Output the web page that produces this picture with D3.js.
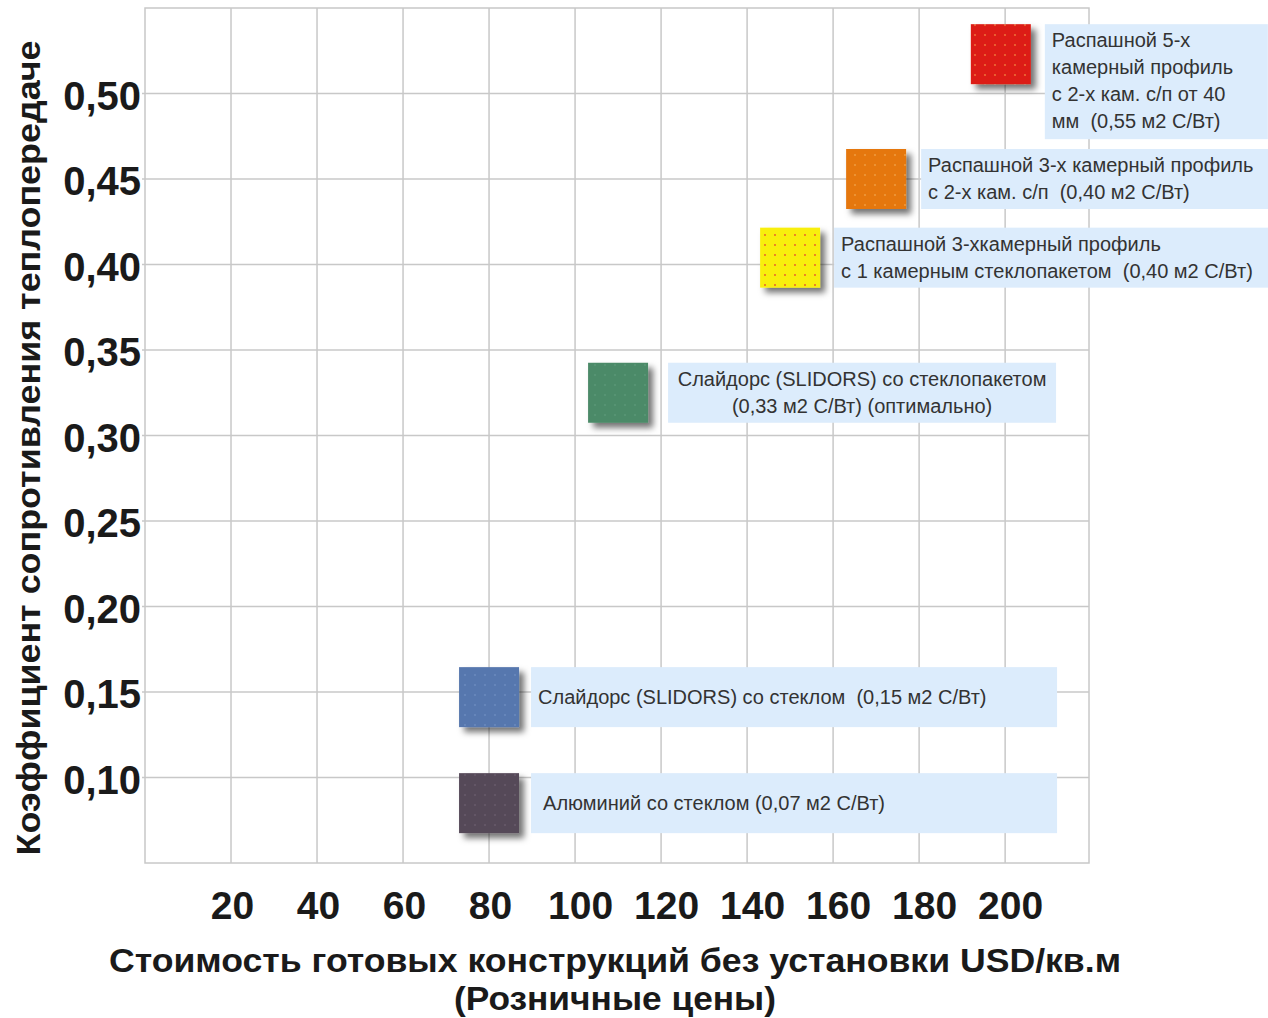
<!DOCTYPE html>
<html>
<head>
<meta charset="UTF-8" />
<script src="https://cdn.jsdelivr.net/npm/d3@7"></script>
<style>
    body { margin: 0; background: #fff; }
    svg text { white-space: pre; }
</style>
</head>
<body>
<div id="chart"></div>
<script>
// data
const categories = [
    ["Распашной 5-х", "камерный профиль", "с 2-х кам. с/п от 40", "мм  (0,55 м2 С/Вт)"],
    ["Распашной 3-х камерный профиль", "с 2-х кам. с/п  (0,40 м2 С/Вт)"],
    ["Распашной 3-хкамерный профиль", "с 1 камерным стеклопакетом  (0,40 м2 С/Вт)"],
    ["Слайдорс (SLIDORS) со стеклопакетом", "(0,33 м2 С/Вт) (оптимально)"],
    ["Слайдорс (SLIDORS) со стеклом  (0,15 м2 С/Вт)"],
    ["Алюминий со стеклом (0,07 м2 С/Вт)"]
];
const prices = [199, 170, 150, 110, 80, 80];
const coefs = [0.523, 0.45, 0.404, 0.325, 0.147, 0.085];
const xTicks = [20, 40, 60, 80, 100, 120, 140, 160, 180, 200];
const yTicks = [0.10, 0.15, 0.20, 0.25, 0.30, 0.35, 0.40, 0.45, 0.50];
const xTitle = ["Стоимость готовых конструкций без установки USD/кв.м", "(Розничные цены)"];
const yTitle = "Коэффициент сопротивления теплопередаче";

// styles / layout for each marker
const colors = ["#dc1f17", "#e5770f", "#f8ef10", "#4b8a68", "#5777ae", "#554858"];
const dotColors = ["#f07a3a", "#f0a040", "#e85030", "#5c9878", "#6c8cc0", "#6a5c6c"];
const gaps = [14, 15, 14, 20, 12, 12];
const boxW = [223, 348, 435, 388, 526, 526];
const boxH = [115, 60, 60, 60, 60, 60];
const centered = [false, false, false, true, false, false];

const W = 1268, H = 1018;
const side = 60;

const x = d3.scaleLinear().domain([0, 219.5]).range([145, 1089]);
const y = d3.scaleLinear().domain([0.05, 0.55]).range([863, 8]);

const svg = d3.select("#chart").append("svg")
    .attr("width", W).attr("height", H)
    .style("font-family", "'Liberation Sans', Arial, sans-serif");

const defs = svg.append("defs");
const f = defs.append("filter").attr("id", "shadow")
    .attr("x", "-20%").attr("y", "-20%").attr("width", "150%").attr("height", "150%");
f.append("feDropShadow").attr("dx", 5).attr("dy", 5).attr("stdDeviation", 3)
    .attr("flood-color", "#000").attr("flood-opacity", 0.55);

colors.forEach((c, i) => {
    const p = defs.append("pattern").attr("id", "dots" + i)
        .attr("patternUnits", "userSpaceOnUse").attr("width", 10).attr("height", 10);
    p.append("rect").attr("width", 10).attr("height", 10).attr("fill", c);
    p.append("circle").attr("cx", 5).attr("cy", 5).attr("r", 0.9).attr("fill", dotColors[i]);
});

// grid
const grid = svg.append("g").attr("stroke", "#c8c8c8").attr("stroke-width", 1.5);
grid.selectAll(".vx").data(xTicks).enter().append("line")
    .attr("x1", d => x(d)).attr("x2", d => x(d))
    .attr("y1", y(0.55)).attr("y2", y(0.05));
grid.selectAll(".hy").data(yTicks).enter().append("line")
    .attr("x1", x(0) - 3).attr("x2", x(219.5))
    .attr("y1", d => y(d)).attr("y2", d => y(d));
grid.append("rect")
    .attr("x", x(0)).attr("y", y(0.55))
    .attr("width", x(219.5) - x(0)).attr("height", y(0.05) - y(0.55))
    .attr("fill", "none");

// axes tick labels
const xAxis = d3.axisBottom(x).tickValues(xTicks).tickSize(0).tickPadding(0)
    .tickFormat(d => d);
svg.append("g").attr("transform", "translate(0,891)").call(xAxis)
    .call(g => g.select(".domain").remove())
    .selectAll("text")
    .attr("fill", "#1a1a1a").attr("font-size", 39).attr("font-weight", "bold")
    .attr("font-family", "'Liberation Sans', Arial, sans-serif")
    .attr("dx", d => d >= 100 ? 5 : 1);

const yAxis = d3.axisLeft(y).tickValues(yTicks).tickSize(0).tickPadding(0)
    .tickFormat(d => d3.format(".2f")(d).replace(".", ","));
svg.append("g").attr("transform", "translate(141,3)").call(yAxis)
    .call(g => g.select(".domain").remove())
    .selectAll("text")
    .attr("fill", "#1a1a1a").attr("font-size", 40).attr("font-weight", "bold")
    .attr("font-family", "'Liberation Sans', Arial, sans-serif");

// axis titles
svg.append("text").attr("x", 615).attr("y", 972)
    .attr("text-anchor", "middle").attr("font-size", 34).attr("font-weight", "bold")
    .attr("fill", "#1a1a1a")
    .attr("textLength", 1012).attr("lengthAdjust", "spacingAndGlyphs")
    .text(xTitle[0]);
svg.append("text").attr("x", 615).attr("y", 1010)
    .attr("text-anchor", "middle").attr("font-size", 34).attr("font-weight", "bold")
    .attr("fill", "#1a1a1a")
    .attr("textLength", 322).attr("lengthAdjust", "spacingAndGlyphs")
    .text(xTitle[1]);
svg.append("text").attr("transform", "translate(40,448) rotate(-90)")
    .attr("text-anchor", "middle").attr("font-size", 33).attr("font-weight", "bold")
    .attr("fill", "#1a1a1a")
    .attr("textLength", 815).attr("lengthAdjust", "spacingAndGlyphs")
    .text(yTitle);

// markers and their label boxes
const items = svg.selectAll(".item").data(prices).enter().append("g").attr("class", "item");
const boxX = i => x(prices[i]) + side / 2 + gaps[i];

items.append("rect")
    .attr("x", (d, i) => boxX(i))
    .attr("y", (d, i) => y(coefs[i]) - side / 2)
    .attr("width", (d, i) => boxW[i])
    .attr("height", (d, i) => boxH[i])
    .attr("fill", "#dcecfc");

items.append("rect")
    .attr("x", (d, i) => x(prices[i]) - side / 2)
    .attr("y", (d, i) => y(coefs[i]) - side / 2)
    .attr("width", side).attr("height", side)
    .attr("fill", (d, i) => `url(#dots${i})`)
    .attr("filter", "url(#shadow)");

items.each(function (d, i) {
    const g = d3.select(this);
    const bx = boxX(i);
    const by = y(coefs[i]) - side / 2;
    const lines = categories[i];
    const single = lines.length === 1;
    lines.forEach((t, k) => {
        g.append("text")
            .attr("x", centered[i] ? bx + boxW[i] / 2 : bx + (i === 5 ? 12 : 7))
            .attr("y", single ? by + boxH[i] / 2 : by + 16 + k * 27)
            .attr("dy", "0.35em")
            .attr("text-anchor", centered[i] ? "middle" : "start")
            .attr("font-size", 20)
            .attr("fill", "#333")
            .text(t);
    });
});
</script>
</body>
</html>
